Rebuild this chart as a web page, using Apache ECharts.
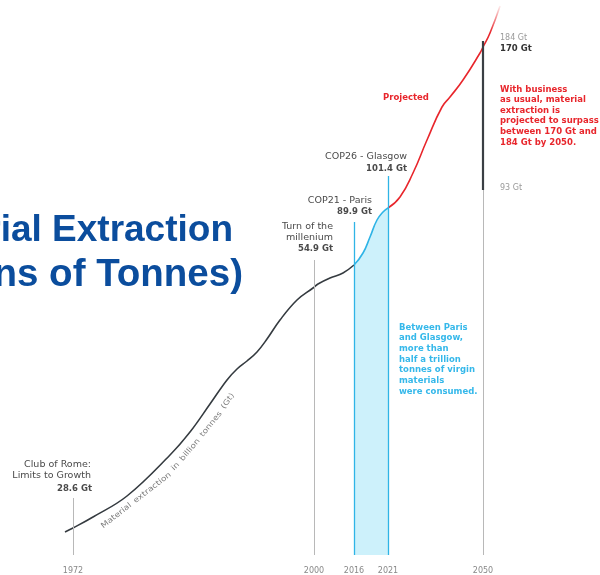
<!DOCTYPE html>
<html>
<head>
<meta charset="utf-8">
<script src="https://cdn.jsdelivr.net/npm/echarts@6/dist/echarts.min.js"></script>
<style>html,body{margin:0;padding:0;background:#fff}#c{width:600px;height:575px}</style>
</head>
<body>
<div id="c"></div>
<script>
// Stylised (non-linear) position along the timeline and curve height
const histPos = [5, 13, 33, 67, 110, 130, 150, 167, 177, 187, 197, 207, 220, 237, 253, 258, 270, 283, 294];
const histVal = [23, 27, 38, 59, 100, 123, 151, 175, 186, 194, 203, 216, 235, 255, 267, 271, 277, 282, 290];
const parisGlasgowPos = [294, 303, 310, 317, 323, 328];
const parisGlasgowVal = [290, 302, 318, 335, 343, 347];
const projPos = [328, 340, 353, 367, 382, 390, 403, 420, 423, 430, 440];
const projVal = [347, 358, 382, 415, 448, 458, 475, 502, 508, 522, 549];

const milestoneYears = ['1972', '2000', '2016', '2021', '2050'];
const milestonePos = [13, 254, 294, 328, 423];
const milestoneTop = [57, 295, 333, 379, 365];
const bauRange = [365, 514]; // 93 Gt .. 184 Gt at 2050

const axisCaption = 'Material extraction in billion tonnes (Gt)';

const pairs = (xs, ys) => xs.map((x, i) => [x, ys[i]]);

const chart = echarts.init(document.getElementById('c'));
const F = 'DejaVu Sans';

const mlData = milestonePos.map((p, i) => {
  const blue = milestoneYears[i] === '2016' || milestoneYears[i] === '2021';
  return [{ coord: [p, 0], lineStyle: { type: 'solid', color: blue ? '#2fb4e6' : '#b8b8b8', width: blue ? 1.3 : 1 } },
          { coord: [p, milestoneTop[i]] }];
});
mlData.push([{ coord: [milestonePos[4], bauRange[0]], lineStyle: { type: 'solid', color: '#3a3f44', width: 2.2 } },
             { coord: [milestonePos[4], bauRange[1]] }]);

function label(x, y, lines, opt) {
  opt = opt || {};
  return {
    type: 'text', x: x, y: y, scaleX: opt.sx || 1, silent: true,
    style: {
      text: lines.join('\n'), fill: opt.color || '#4a4a4a', font: (opt.bold ? 'bold ' : '') + (opt.size || 8.5) + 'px "' + F + '"',
      textAlign: opt.align || 'right', textVerticalAlign: 'top', lineHeight: opt.lh || 11
    }
  };
}

// curved caption: words laid out along a guide path that runs just below the curve
const guide = [[102, 527], [130, 505], [160, 482], [178, 464], [195, 444], [212, 423], [233, 394]];
const capFont = '7.5px "' + F + '"';
const ctx = document.createElement('canvas').getContext('2d');
ctx.font = capFont;
const words = axisCaption.split(' ');
const wW = words.map(w => ctx.measureText(w).width);
const spW = ctx.measureText(' ').width * 1.6;
const segs = [];
let gLen = 0;
for (let i = 1; i < guide.length; i++) {
  const dx = guide[i][0] - guide[i - 1][0], dy = guide[i][1] - guide[i - 1][1];
  const l = Math.hypot(dx, dy);
  segs.push({ a: guide[i - 1], dx, dy, l, s: gLen });
  gLen += l;
}
function pointAt(d) {
  let sg = segs[segs.length - 1];
  for (const s of segs) { if (d <= s.s + s.l) { sg = s; break; } }
  const t = (d - sg.s) / sg.l;
  return [sg.a[0] + sg.dx * t, sg.a[1] + sg.dy * t, Math.atan2(-sg.dy, sg.dx)];
}
const total = wW.reduce((a, b) => a + b, 0) + spW * (words.length - 1);
const k = gLen / total;
let cur = 0;
const captionWords = words.map((w, i) => {
  const mid = cur + wW[i] * k / 2;
  cur += (wW[i] + spW) * k;
  const p = pointAt(mid);
  return { type: 'text', x: p[0], y: p[1], rotation: p[2], scaleX: k, silent: true,
    style: { text: w, fill: '#7d7d7d', font: capFont, textAlign: 'center', textVerticalAlign: 'middle' } };
});

chart.setOption({
  animation: false,
  grid: { left: 60, right: 100, top: 5, bottom: 20 },
  xAxis: {
    type: 'value', min: 0, max: 440,
    axisLine: { show: false }, axisTick: { show: false }, splitLine: { show: false },
    axisLabel: {
      customValues: milestonePos,
      formatter: v => milestoneYears[milestonePos.indexOf(v)] || '',
      color: '#888', fontSize: 8, fontFamily: F, margin: 12
    }
  },
  yAxis: { type: 'value', min: 0, max: 550, show: false },
  series: [
    { type: 'line', data: pairs(histPos, histVal), smooth: 0.4, symbol: 'none',
      lineStyle: { color: '#353b40', width: 1.6 } },
    { type: 'line', data: pairs(parisGlasgowPos, parisGlasgowVal), smooth: 0.5, symbol: 'none',
      lineStyle: { color: '#2fb4e6', width: 1.6 }, areaStyle: { color: '#cdf1fb', opacity: 1 } },
    { type: 'line', data: pairs(projPos, projVal), smooth: 0.5, symbol: 'none',
      lineStyle: { width: 1.6, color: new echarts.graphic.LinearGradient(0, 0, 0, 1, [
        { offset: 0, color: 'rgba(232,38,44,0)' }, { offset: 0.14, color: '#e8262c' }, { offset: 1, color: '#e8262c' }]) },
      markLine: { silent: true, symbol: ['none', 'none'], label: { show: false }, data: mlData } }
  ],
  graphic: [
    { type: 'text', x: 233, y: 231, silent: true,
      style: { text: 'Material Extraction', fill: '#0b4d9d', font: 'bold 37px "Liberation Sans"', textAlign: 'right', textVerticalAlign: 'middle' } },
    { type: 'text', x: 243, y: 275, silent: true,
      style: { text: '(Billions of Tonnes)', fill: '#0b4d9d', font: 'bold 38.5px "Liberation Sans"', textAlign: 'right', textVerticalAlign: 'middle' } },
    label(91, 459, ['Club of Rome:', 'Limits to Growth'], { sx: 1.12 }),
    label(92, 483, ['28.6 Gt'], { bold: true }),
    label(333, 221, ['Turn of the', 'millenium'], { sx: 1.12 }),
    label(333, 243, ['54.9 Gt'], { bold: true }),
    label(372, 195, ['COP21 - Paris'], { sx: 1.12 }),
    label(372, 206, ['89.9 Gt'], { bold: true }),
    label(407, 151, ['COP26 - Glasgow'], { sx: 1.12 }),
    label(407, 163, ['101.4 Gt'], { bold: true }),
    label(383, 92, ['Projected'], { bold: true, align: 'left', color: '#e8262c' }),
    label(500, 32, ['184 Gt'], { align: 'left', color: '#9a9a9a', size: 8 }),
    label(500, 43, ['170 Gt'], { align: 'left', bold: true, color: '#333' }),
    label(500, 84, ['With business', 'as usual, material', 'extraction is', 'projected to surpass', 'between 170 Gt and', '184 Gt by 2050.'],
      { align: 'left', bold: true, color: '#e8262c', lh: 10.6 }),
    label(500, 182, ['93 Gt'], { align: 'left', color: '#9a9a9a', size: 8 }),
    label(399, 322, ['Between Paris', 'and Glasgow,', 'more than', 'half a trillion', 'tonnes of virgin', 'materials', 'were consumed.'],
      { align: 'left', bold: true, color: '#35b8ea', lh: 10.7 })
  ].concat(captionWords)
});
</script>
</body>
</html>
